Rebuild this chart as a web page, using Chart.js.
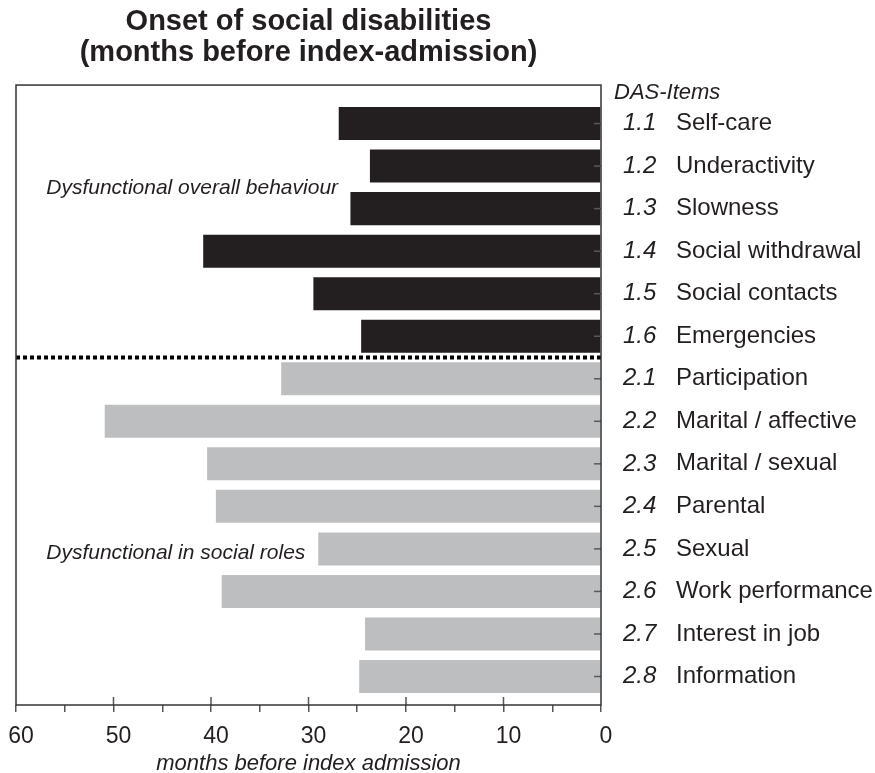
<!DOCTYPE html>
<html>
<head>
<meta charset="utf-8">
<script src="https://cdn.jsdelivr.net/npm/chart.js@4.4.1/dist/chart.umd.min.js"></script>
<style>
  html, body { margin: 0; padding: 0; background: #fff; }
  #wrap { width: 875px; height: 773px; }
</style>
</head>
<body>
<div id="wrap"><canvas id="onsetChart"></canvas></div>
<script>
// DAS items (top to bottom)
const itemCodes = ['1.1', '1.2', '1.3', '1.4', '1.5', '1.6',
                   '2.1', '2.2', '2.3', '2.4', '2.5', '2.6', '2.7', '2.8'];
const itemNames = ['Self-care', 'Underactivity', 'Slowness', 'Social withdrawal',
                   'Social contacts', 'Emergencies', 'Participation', 'Marital / affective',
                   'Marital / sexual', 'Parental', 'Sexual', 'Work performance',
                   'Interest in job', 'Information'];
// onset, months before index admission
const onsetMonths = [26.9, 23.7, 25.7, 40.8, 29.5, 24.6,
                     32.8, 50.9, 40.4, 39.5, 29.0, 38.9, 24.2, 24.8];
// 1 = overall behaviour, 2 = social roles
const itemGroups = [1, 1, 1, 1, 1, 1, 2, 2, 2, 2, 2, 2, 2, 2];
const groupLabels = ['Dysfunctional overall behaviour', 'Dysfunctional in social roles'];
const headerLabel = 'DAS-Items';

const textColor = '#231f20';
const groupColors = { 1: '#231f20', 2: '#bcbec0' };
const fontFamily = '"Liberation Sans", Arial, Helvetica, sans-serif';

// frame, separator, inner ticks and free labels
const decorations = {
    id: 'decorations',
    afterDatasetsDraw(chart) {
        const { ctx, chartArea: a, scales: { x, y } } = chart;
        ctx.save();

        // right-side inward ticks
        ctx.strokeStyle = '#58595b';
        ctx.lineWidth = 1.5;
        itemCodes.forEach((c, i) => {
            const py = y.getPixelForValue(i);
            ctx.beginPath();
            ctx.moveTo(a.right - 7, py);
            ctx.lineTo(a.right, py);
            ctx.stroke();
        });

        // upward part of major x ticks
        ctx.strokeStyle = '#555';
        for (let v = 10; v < 60; v += 10) {
            const px = x.getPixelForValue(v);
            ctx.beginPath();
            ctx.moveTo(px, a.bottom - 8);
            ctx.lineTo(px, a.bottom);
            ctx.stroke();
        }

        // dotted separator between the two groups
        const sepY = y.getPixelForValue(5.5);
        ctx.strokeStyle = '#000';
        ctx.lineWidth = 4;
        ctx.setLineDash([4, 3]);
        ctx.beginPath();
        ctx.moveTo(a.left, sepY);
        ctx.lineTo(a.right, sepY);
        ctx.stroke();
        ctx.setLineDash([]);

        // frame
        ctx.strokeStyle = '#333';
        ctx.lineWidth = 1.5;
        ctx.strokeRect(a.left, a.top, a.right - a.left, a.bottom - a.top);

        // group labels
        ctx.fillStyle = textColor;
        ctx.textBaseline = 'middle';
        ctx.textAlign = 'left';
        ctx.font = 'italic 21px ' + fontFamily;
        ctx.fillText(groupLabels[0], x.getPixelForValue(56.9), y.getPixelForValue(1.52));
        ctx.fillText(groupLabels[1], x.getPixelForValue(56.9), y.getPixelForValue(10.1));

        // header above the item list
        ctx.font = 'italic 22px ' + fontFamily;
        ctx.fillText(headerLabel, a.right + 13, a.top + 8);

        ctx.restore();
    }
};

const yRange = { min: -0.905, max: 13.67 };

function itemAxis(labels, italic, padding, width) {
    return {
        type: 'linear',
        position: 'right',
        reverse: true,
        offset: false,
        bounds: 'data',
        min: yRange.min,
        max: yRange.max,
        afterBuildTicks: scale => {
            scale.ticks = labels.map((l, i) => ({ value: i }));
        },
        afterFit: scale => { scale.width = width; },
        grid: { display: false, drawTicks: false },
        border: { display: false },
        ticks: {
            autoSkip: false,
            padding: padding,
            color: textColor,
            font: { family: fontFamily, size: 24, style: italic ? 'italic' : 'normal' },
            callback: value => labels[value]
        }
    };
}

const ctx = document.getElementById('onsetChart').getContext('2d');
new Chart(ctx, {
    type: 'bar',
    data: {
        datasets: [{
            data: onsetMonths.map((v, i) => ({ x: v, y: i })),
            backgroundColor: itemGroups.map(g => groupColors[g]),
            borderWidth: 0,
            categoryPercentage: 0.8,
            barPercentage: 0.97
        }]
    },
    options: {
        indexAxis: 'y',
        responsive: true,
        maintainAspectRatio: false,
        animation: false,
        layout: { padding: { left: 16, right: 0, top: 0, bottom: 0 } },
        plugins: {
            legend: { display: false },
            tooltip: { enabled: false },
            title: {
                display: true,
                fullSize: false,
                text: ['Onset of social disabilities', '(months before index-admission)'],
                color: textColor,
                font: { family: fontFamily, size: 29, weight: 'bold', lineHeight: 1.07 },
                padding: { top: 6, bottom: 17 }
            }
        },
        scales: {
            x: {
                type: 'linear',
                position: 'bottom',
                reverse: true,
                min: 0,
                max: 60,
                afterFit: scale => {
                    scale.height = 68;
                    scale.paddingLeft = 0;
                    scale.paddingRight = 0;
                },
                grid: { drawOnChartArea: false, tickLength: 7, color: '#555', lineWidth: 1.5 },
                border: { display: false },
                ticks: {
                    stepSize: 5,
                    autoSkip: false,
                    maxRotation: 0,
                    padding: 11,
                    labelOffset: 5,
                    color: textColor,
                    font: { family: fontFamily, size: 23 },
                    callback: v => (v % 10 === 0 ? v : '')
                },
                title: {
                    display: true,
                    text: 'months before index admission',
                    color: textColor,
                    font: { family: fontFamily, size: 22, style: 'italic' },
                    padding: { top: 0, bottom: -4 }
                }
            },
            y: itemAxis(itemCodes, true, 22, 75),
            y2: itemAxis(itemNames, false, 0, 199)
        }
    },
    plugins: [decorations]
});
</script>
</body>
</html>
